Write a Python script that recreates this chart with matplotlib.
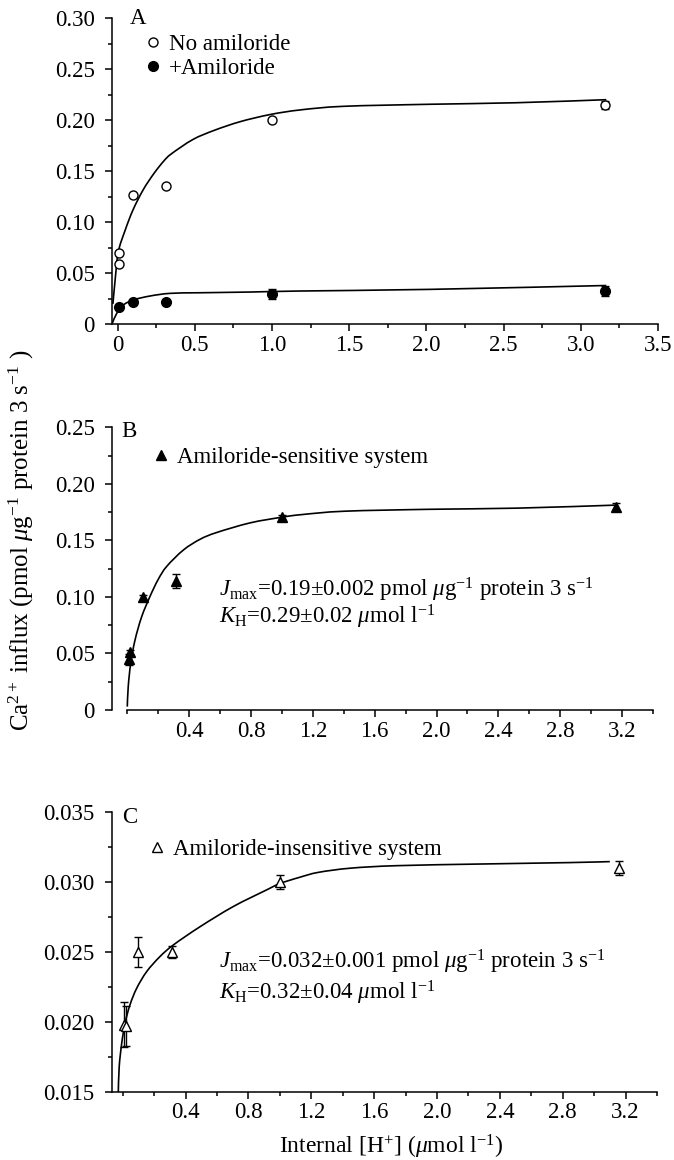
import numpy as np
import matplotlib
matplotlib.use("Agg")
import matplotlib.pyplot as plt
from matplotlib.path import Path
from matplotlib.patches import PathPatch
from matplotlib.ticker import FixedLocator, FixedFormatter, MultipleLocator

plt.rcParams["font.family"] = ["Liberation Serif", "DejaVu Serif"]
plt.rcParams["mathtext.fontset"] = "custom"
plt.rcParams["mathtext.rm"] = "Liberation Serif"
plt.rcParams["mathtext.it"] = "Liberation Serif:italic"
plt.rcParams["mathtext.bf"] = "Liberation Serif:bold"

# ---------------- data ----------------
# Panel A: total Ca2+ influx with and without amiloride
a_none_x = [0.01, 0.01, 0.1, 0.316, 1.0, 3.16]
a_none_y = [0.070, 0.059, 0.127, 0.135, 0.200, 0.215]
a_none_err = [0, 0, 0, 0, 0, 0.004]

a_amil_x = [0.01, 0.1, 0.316, 1.0, 3.16]
a_amil_y = [0.0172, 0.0222, 0.0220, 0.0297, 0.0326]
a_amil_err = [0, 0, 0, 0.0046, 0.0045]

# fitted curves, panel A
a_fit_none_x = [-0.03, -0.016, 0.005, 0.049, 0.1, 0.167, 0.237, 0.3, 0.349, 0.488,
                0.627, 0.795, 0.99, 1.185, 1.464, 2.02, 2.58, 3.165]
a_fit_none_y = [0.020, 0.043, 0.071, 0.092, 0.112, 0.132, 0.148, 0.160, 0.167, 0.181,
                0.190, 0.1985, 0.2055, 0.210, 0.2135, 0.2155, 0.217, 0.220]
a_fit_amil_x = [-0.034, -0.005, 0.038, 0.10, 0.21, 0.34, 0.534, 0.858, 1.18, 2.02, 3.165]
a_fit_amil_y = [0.001, 0.0108, 0.0189, 0.0238, 0.0277, 0.0303, 0.0309, 0.0316,
                0.0326, 0.0342, 0.038]

# Panel B: amiloride-sensitive component
b_x = [0.01, 0.02, 0.1, 0.316, 1.0, 3.16]
b_y = [0.0448, 0.051, 0.0996, 0.1143, 0.1704, 0.1798]
b_err = [0.005, 0.002, 0.002, 0.006, 0.002, 0.003]
b_fit_x = [0.0, 0.006, 0.022, 0.05, 0.093, 0.147, 0.2, 0.255, 0.363, 0.471, 0.579,
           0.795, 1.0, 1.128, 1.406, 1.962, 2.52, 3.16]
b_fit_y = [0.003, 0.0206, 0.0413, 0.0619, 0.0825, 0.1005, 0.1155, 0.127, 0.1415,
           0.151, 0.157, 0.1655, 0.1705, 0.1728, 0.1758, 0.1775, 0.1785, 0.1812]

# Panel C: amiloride-insensitive component
c_x = [0.01, 0.02, 0.1, 0.316, 1.0, 3.16]
c_y = [0.0198, 0.0197, 0.0250, 0.0250, 0.0300, 0.0310]
c_err = [0.0016, 0.0014, 0.0011, 0.0004, 0.0005, 0.0005]
c_fit_x = [-0.028, -0.022, -0.006, 0.015, 0.046, 0.089, 0.153, 0.237, 0.322, 0.491,
           0.703, 0.915, 1.0, 1.127, 1.245, 1.45, 1.745, 2.29, 2.84, 3.1]
c_fit_y = [0.0149, 0.0168, 0.01847, 0.0199, 0.0212, 0.0224, 0.0236, 0.02467, 0.0255,
           0.0268, 0.02825, 0.02944, 0.0299, 0.03035, 0.0307, 0.0310, 0.03118,
           0.0313, 0.0314, 0.03147]

# tick labels
a_xticks = [0, 0.5, 1.0, 1.5, 2.0, 2.5, 3.0, 3.5]
a_xlabels = ["0", "0.5", "1.0", "1.5", "2.0", "2.5", "3.0", "3.5"]
a_yticks = [0, 0.05, 0.10, 0.15, 0.20, 0.25, 0.30]
a_ylabels = ["0", "0.05", "0.10", "0.15", "0.20", "0.25", "0.30"]
bc_xticks = [0.4, 0.8, 1.2, 1.6, 2.0, 2.4, 2.8, 3.2]
bc_xlabels = ["0.4", "0.8", "1.2", "1.6", "2.0", "2.4", "2.8", "3.2"]
b_yticks = [0, 0.05, 0.10, 0.15, 0.20, 0.25]
b_ylabels = ["0", "0.05", "0.10", "0.15", "0.20", "0.25"]
c_yticks = [0.015, 0.020, 0.025, 0.030, 0.035]
c_ylabels = ["0.015", "0.020", "0.025", "0.030", "0.035"]

FS = 16.5
W, H = 674, 1160
fig = plt.figure(figsize=(W / 100, H / 100), dpi=100)


def px_axes(left, right, top, bottom):
    return fig.add_axes([left / W, 1 - bottom / H, (right - left) / W, (bottom - top) / H])


def style(ax):
    for s in ("top", "right"):
        ax.spines[s].set_visible(False)
    for s in ("left", "bottom"):
        ax.spines[s].set_linewidth(1.1)
    ax.tick_params(which="major", direction="out", length=4.7, width=1.1,
                   labelsize=FS, pad=3)
    ax.tick_params(which="minor", direction="out", length=3.0, width=1.1)
    ax.tick_params(axis="y", which="major", pad=8)


def fit_curve(ax, x, y):
    """Draw a smooth curve through the fitted points (Catmull-Rom as Bezier)."""
    p = np.column_stack([x, y]).astype(float)
    n = len(p)
    verts = [p[0]]
    codes = [Path.MOVETO]
    for i in range(n - 1):
        p0 = p[i - 1] if i > 0 else p[i]
        p1, p2 = p[i], p[i + 1]
        p3 = p[i + 2] if i + 2 < n else p[i + 1]
        verts += [p1 + (p2 - p0) / 6.0, p2 - (p3 - p1) / 6.0, p2]
        codes += [Path.CURVE4] * 3
    ax.add_patch(PathPatch(Path(verts, codes), fill=False, ec="black",
                           lw=1.2, zorder=1))


def err_points(ax, x, y, e):
    x, y, e = map(np.asarray, (x, y, e))
    m = e > 0
    ax.errorbar(x[m], y[m], yerr=e[m], fmt="none", ecolor="black",
                elinewidth=1.0, capsize=3, capthick=1.0, zorder=2)


# ---------------- panel A ----------------
axA = px_axes(112.3, 658, 18, 324.3)
style(axA)
axA.set_xlim(-0.034, 3.5)
axA.set_ylim(0, 0.30)
fit_curve(axA, a_fit_none_x, a_fit_none_y)
fit_curve(axA, a_fit_amil_x, a_fit_amil_y)
err_points(axA, a_none_x, a_none_y, a_none_err)
err_points(axA, a_amil_x, a_amil_y, a_amil_err)
axA.plot(a_none_x, a_none_y, ls="none", marker="o", ms=6.5, mfc="white",
         mec="black", mew=1.0, zorder=3, label="No amiloride")
axA.plot(a_amil_x, a_amil_y, ls="none", marker="o", ms=7, mfc="black",
         mec="black", zorder=3, label="+Amiloride")
axA.xaxis.set_major_locator(FixedLocator(a_xticks))
axA.xaxis.set_major_formatter(FixedFormatter(a_xlabels))
axA.xaxis.set_minor_locator(MultipleLocator(0.25))
axA.yaxis.set_major_locator(FixedLocator(a_yticks))
axA.yaxis.set_major_formatter(FixedFormatter(a_ylabels))
axA.yaxis.set_minor_locator(MultipleLocator(0.025))
axA.legend(loc="upper left", bbox_to_anchor=(0.059, 0.948), frameon=False,
           fontsize=FS, handlelength=0.75, handletextpad=0.3, labelspacing=0.12,
           borderpad=0, borderaxespad=0, numpoints=1)
axA.text(0.0324, 0.980, "A", transform=axA.transAxes, fontsize=FS, va="baseline")

# ---------------- panel B ----------------
axB = px_axes(112.3, 653, 427.3, 710)
style(axB)
axB.set_xlim(-0.097, 3.40)
axB.set_ylim(0, 0.25)
axB.spines["bottom"].set_bounds(0, 3.4)
fit_curve(axB, b_fit_x, b_fit_y)
err_points(axB, b_x, b_y, b_err)
axB.plot(b_x, b_y, ls="none", marker="^", ms=7, mfc="black", mec="black",
         zorder=3, label="Amiloride-sensitive system")
axB.xaxis.set_major_locator(FixedLocator(bc_xticks))
axB.xaxis.set_major_formatter(FixedFormatter(bc_xlabels))
axB.xaxis.set_minor_locator(MultipleLocator(0.2))
axB.yaxis.set_major_locator(FixedLocator(b_yticks))
axB.yaxis.set_major_formatter(FixedFormatter(b_ylabels))
axB.yaxis.set_minor_locator(MultipleLocator(0.025))
axB.legend(loc="upper left", bbox_to_anchor=(0.075, 0.93), frameon=False,
           fontsize=FS, handlelength=0.75, handletextpad=0.3,
           borderpad=0, borderaxespad=0, numpoints=1)
axB.text(0.0174, 0.9646, "B", transform=axB.transAxes, fontsize=FS, va="baseline")
axB.text(0.198, 0.400,
         r"$J_{\mathrm{max}}$=0.19±0.002 pmol $\mu$g$^{-1}$ protein 3 s$^{-1}$",
         transform=axB.transAxes, fontsize=FS, va="baseline")
axB.text(0.198, 0.305, r"$K_{\mathrm{H}}$=0.29±0.02 $\mu$mol l$^{-1}$",
         transform=axB.transAxes, fontsize=FS, va="baseline")

# ---------------- panel C ----------------
axC = px_axes(112.3, 657, 812.3, 1091.7)
style(axC)
axC.set_xlim(-0.066, 3.40)
axC.set_ylim(0.015, 0.035)
fit_curve(axC, c_fit_x, c_fit_y)
err_points(axC, c_x, c_y, c_err)
axC.plot(c_x, c_y, ls="none", marker="^", ms=7, mfc="white", mec="black",
         mew=1.0, zorder=3, label="Amiloride-insensitive system")
axC.xaxis.set_major_locator(FixedLocator(bc_xticks))
axC.xaxis.set_major_formatter(FixedFormatter(bc_xlabels))
axC.xaxis.set_minor_locator(MultipleLocator(0.2))
axC.yaxis.set_major_locator(FixedLocator(c_yticks))
axC.yaxis.set_major_formatter(FixedFormatter(c_ylabels))
axC.yaxis.set_minor_locator(MultipleLocator(0.0025))
axC.legend(loc="upper left", bbox_to_anchor=(0.067, 0.903), frameon=False,
           fontsize=FS, handlelength=0.75, handletextpad=0.3,
           borderpad=0, borderaxespad=0, numpoints=1)
axC.text(0.0173, 0.9617, "C", transform=axC.transAxes, fontsize=FS, va="baseline")
axC.text(0.1964, 0.4427,
         r"$J_{\mathrm{max}}$=0.032±0.001 pmol $\mu$g$^{-1}$ protein 3 s$^{-1}$",
         transform=axC.transAxes, fontsize=FS, va="baseline")
axC.text(0.1964, 0.330, r"$K_{\mathrm{H}}$=0.32±0.04 $\mu$mol l$^{-1}$",
         transform=axC.transAxes, fontsize=FS, va="baseline")
axC.set_xlabel(r"Internal [H$^{+}$] ($\mu$mol l$^{-1}$)", fontsize=17)
axC.xaxis.set_label_coords(0.512, -0.148)

# shared y-axis label
fig.text(21 / W, 1 - 540 / H,
         r"Ca$^{2+}$ influx (pmol $\mu$g$^{-1}$ protein 3 s$^{-1}$ )",
         rotation=90, ha="center", va="center", fontsize=18)

fig.savefig("out.png", dpi=100)
